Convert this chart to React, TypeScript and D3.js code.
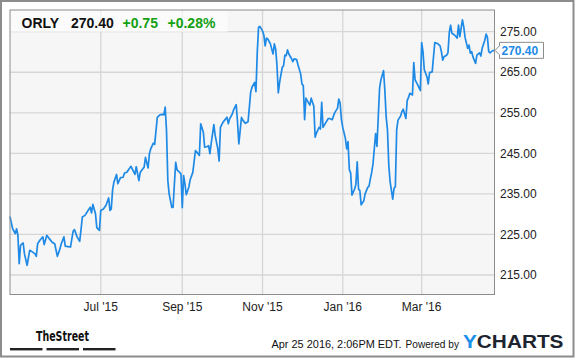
import React from "react";
import * as d3 from "d3";

const ticker = "ORLY";
const lastPrice = "270.40";
const change = "+0.75";
const changePct = "+0.28%";
const startDate = "2015-04-23";
const endDate = "2016-04-25";

// calendar days since startDate for each close
const daysSinceStart = [
  0, 2, 4, 5, 6, 7, 8, 10, 11, 13, 15, 17, 19, 20, 21, 23, 25, 26, 28, 30, 32, 34, 36, 38, 39, 41, 42, 44, 46, 48, 49,
  51, 53, 54, 55, 57, 59, 61, 62, 63, 65, 66, 68, 69, 71, 73, 75, 76, 77, 78, 79, 81, 82, 84, 86, 87, 89, 90, 92,
  95, 96, 98, 99, 101, 102, 103, 105, 106, 107, 109, 110, 112, 114, 116, 117, 118, 119, 120, 121, 123, 124, 125, 126,
  127, 129, 130, 131, 132, 133, 134, 136, 137, 139, 141, 142, 144, 145, 147, 148, 150, 151, 152, 153, 155, 156, 158,
  159, 160, 162, 164, 165, 166, 167, 169, 170, 172, 173, 174, 175, 176, 177, 179, 181, 182, 183, 184, 186,
  187, 188, 189, 190, 192, 193, 194, 195, 196, 198, 199, 200, 201, 202, 203, 204, 205, 207, 208, 209, 210, 211, 212,
  214, 215, 216, 218, 219, 221, 222, 223, 224, 225, 226, 228, 229, 231, 232, 233, 235, 236, 237, 238, 240, 242, 243,
  245, 246, 247, 249, 250, 251, 252, 253, 255, 256, 257, 258, 259, 260, 262, 263, 264, 265, 266, 267, 269, 270, 272,
  273, 274, 275, 276,
  278, 279, 280, 281, 282, 284, 285, 286, 287, 288, 289, 291, 292, 293, 294, 295, 297, 298, 299, 301, 302, 303, 304,
  306, 307, 308, 310, 312, 313, 314, 315, 317, 318, 319, 321, 322, 323, 325, 327, 328, 329, 330, 332, 333, 334, 335,
  336, 338, 339, 340, 341, 342, 344, 345, 346, 348, 349, 350, 351, 352, 354, 355, 357, 358, 359, 361, 362, 363, 364,
  365, 366, 368,
];

const closes = [
  229.4, 226.4, 225.2, 226.4, 224.8, 217.8, 222.3, 222.9, 220.2, 217.4, 221.1, 220.7, 220.2, 219.6, 222.7, 223.7, 224.4,
  222.5, 224.8, 223.9, 223.1, 222.7, 219.6, 221.5, 222.7, 224.4, 222.1, 222.0, 221.9, 225.8, 226.2,
  224.4, 223.3, 226.2, 229.3, 229.7, 230.7, 231.7, 230.3, 232.4, 230.1, 226.7, 226.0, 230.9, 231.3, 232.2, 234.0, 230.9,
  231.3, 236.0, 237.9, 239.8, 237.5, 239.0, 239.1, 240.1, 240.4, 240.9, 241.8,
  239.8, 241.7, 238.3, 240.3, 241.2, 241.6, 244.0, 241.4, 244.9, 246.1, 247.5, 247.2, 253.9, 254.5, 254.6, 254.5, 256.4,
  250.6, 238.3, 235.0, 231.7, 231.7, 237.5, 242.8,
  240.9, 240.3, 239.9, 231.6, 239.5, 237.5, 234.8, 236.7, 238.5, 240.3, 245.7, 245.3, 244.5, 252.3, 250.2, 246.5, 246.7,
  246.9, 244.9, 247.5, 252.1, 249.4, 246.1,
  243.1, 251.4, 252.7, 253.5, 253.9, 252.3, 253.5, 254.7, 255.7, 257.0, 252.7, 247.3, 250.6, 253.9, 253.2, 252.4, 252.8,
  256.4, 260.1, 261.3, 262.5,
  260.2, 269.9, 276.1, 276.3, 275.2, 274.2, 271.5, 273.4, 273.2, 272.0, 270.7, 269.5, 272.0, 270.7, 266.6, 259.9, 262.5,
  266.2, 266.6, 269.2, 269.1, 270.5, 269.5,
  268.4, 267.6, 268.3, 268.1, 266.8, 264.6, 262.1, 261.7, 253.3, 258.6, 258.0, 256.9, 258.6, 256.6, 249.0, 250.0, 251.4,
  251.0, 257.6, 251.4, 252.5, 253.6, 253.6,
  253.3, 254.3, 255.1, 256.1, 258.4, 257.4, 253.3, 251.4, 248.7, 246.1, 247.9, 241.0, 240.2, 234.7, 236.2, 237.4, 242.9,
  236.2, 235.8, 232.3, 233.3, 235.0, 236.6,
  236.9, 238.7, 240.3, 242.4,
  249.9, 246.7, 254.0, 261.0, 263.1, 265.4, 260.6, 254.0, 250.8, 242.1, 238.0, 233.7, 236.4, 236.8, 250.8, 253.2, 254.2,
  255.3, 255.9, 253.6, 258.0, 258.8, 259.8,
  259.4, 267.4, 263.1, 261.9, 260.5, 272.3, 270.1, 265.6, 263.9, 262.1, 264.9, 265.1, 268.8, 272.3, 272.1, 271.5, 270.1,
  268.0, 268.8, 269.2, 269.8, 274.8, 276.6,
  274.6, 274.2, 273.8, 273.4, 276.6, 273.8, 277.9, 276.2, 273.6, 270.9, 271.7, 269.7, 270.1, 268.8, 267.2, 269.2, 269.8,
  269.0, 270.9, 272.9, 274.4, 273.6, 270.1,
  269.8, 270.1, 270.4,
];

const yTicks = [215, 225, 235, 245, 255, 265, 275];
const xTickDates = ["2015-07-01", "2015-09-01", "2015-11-01", "2016-01-01", "2016-03-01"];
const xTickLabels = ["Jul '15", "Sep '15", "Nov '15", "Jan '16", "Mar '16"];
const timestamp = "Apr 25 2016, 2:06PM EDT.";
const poweredBy = "Powered by";

const FONT = "'Liberation Sans', Arial, Helvetica, sans-serif";
const LINE_BLUE = "#1e8ae6";
const GREEN = "#13a013";

export default function App() {
  const parse = d3.timeParse("%Y-%m-%d");
  const start = parse(startDate) as Date;
  const end = parse(endDate) as Date;

  const left = 10, right = 494.5, top = 10, bottom = 294.5;

  const x = d3.scaleTime().domain([start, end]).range([left, 494]);
  const y = d3.scaleLinear().domain([215, 275]).range([275, 31.7]);

  const points: [Date, number][] = daysSinceStart.map((d, i) => [d3.timeDay.offset(start, d), closes[i]]);
  const linePath = d3
    .line<[Date, number]>()
    .x((p) => x(p[0]))
    .y((p) => y(p[1]))(points) as string;

  const lastY = y(closes[closes.length - 1]);

  return (
    <svg
      width={575}
      height={358}
      style={{ position: "absolute", left: 0, top: 0, background: "#fff" }}
      fontFamily={FONT}
    >
      <rect x={0} y={0} width={575} height={358} fill="#fff" />
      <rect x={1} y={1} width={572.5} height={355.5} fill="none" stroke="#8c8c8c" strokeWidth={2} />

      {/* plot background */}
      <rect x={left} y={top} width={right - left} height={bottom - top} fill="#f6f6f6" />

      {/* grid */}
      {yTicks.map((t) => (
        <line key={"gy" + t} x1={left} x2={right} y1={y(t)} y2={y(t)} stroke="#d6d6d6" strokeWidth={1.3} />
      ))}
      {xTickDates.map((d) => {
        const xx = x(parse(d) as Date);
        return <line key={"gx" + d} x1={xx} x2={xx} y1={top} y2={bottom} stroke="#d6d6d6" strokeWidth={1.3} />;
      })}

      {/* price line */}
      <path d={linePath} fill="none" stroke={LINE_BLUE} strokeWidth={1.7} strokeLinejoin="round" />

      {/* header box */}
      <rect x={left + 0.5} y={top + 0.5} width={217} height={21.5} fill="#fff" opacity={0.6} />
      <text x={21.5} y={27.5} fontSize={14} fontWeight="bold" fill="#111">{ticker}</text>
      <text x={71} y={27.5} fontSize={14} fontWeight="bold" fill="#111">{lastPrice}</text>
      <text x={122.5} y={27.5} fontSize={14} fontWeight="bold" fill={GREEN}>{change}</text>
      <text x={167.5} y={27.5} fontSize={14} fontWeight="bold" fill={GREEN}>{changePct}</text>

      {/* plot border */}
      <rect x={left} y={top} width={right - left} height={bottom - top} fill="none" stroke="#8c8c8c" strokeWidth={1} />

      {/* y labels */}
      {yTicks.map((t) => (
        <text key={"ly" + t} x={500} y={y(t) + 4.2} fontSize={12} fill="#222">
          {t.toFixed(2)}
        </text>
      ))}

      {/* last price tag */}
      <path
        d={`M${495},${lastY} L${499.5},${lastY - 4.5} L${499.5},${lastY - 8} L${543.5},${lastY - 8} L${543.5},${lastY + 8} L${499.5},${lastY + 8} L${499.5},${lastY + 4.5} Z`}
        fill="#fff"
        stroke="#8c8c8c"
        strokeWidth={1}
      />
      <text x={501.5} y={lastY + 4.3} fontSize={12} fontWeight="bold" fill={LINE_BLUE}>
        {closes[closes.length - 1].toFixed(2)}
      </text>

      {/* x labels */}
      {xTickDates.map((d, i) => (
        <text key={"lx" + d} x={x(parse(d) as Date)} y={310.5} fontSize={12} fill="#222" textAnchor="middle">
          {xTickLabels[i]}
        </text>
      ))}

      {/* footer: TheStreet */}
      <text
        x={36}
        y={340.5}
        fontSize={13.5}
        fontWeight="bold"
        fill="#111"
        fontFamily="'Liberation Sans Narrow', 'DejaVu Sans Condensed', 'Liberation Sans', Arial, sans-serif"
        textLength={53}
        lengthAdjust="spacingAndGlyphs"
      >
        TheStreet
      </text>
      <rect x={10} y={348} width={32.5} height={2.4} fill="#222" />
      <rect x={46.5} y={348} width={32.5} height={2.4} fill="#222" />
      <rect x={83} y={348} width={32.5} height={2.4} fill="#222" />

      {/* footer right */}
      <text x={271.5} y={348.3} fontSize={10.8} fill="#111" textLength={130} lengthAdjust="spacingAndGlyphs">
        {timestamp}
      </text>
      <text x={405.5} y={348.3} fontSize={10.8} fill="#111" textLength={53.5} lengthAdjust="spacingAndGlyphs">
        {poweredBy}
      </text>
      <text x={463} y={348.3} fontSize={18.5} fontWeight={900} fill="#1c2430" textLength={100.5} lengthAdjust="spacingAndGlyphs">
        <tspan fill="#1a8fe8">Y</tspan>CHARTS
      </text>
    </svg>
  );
}
